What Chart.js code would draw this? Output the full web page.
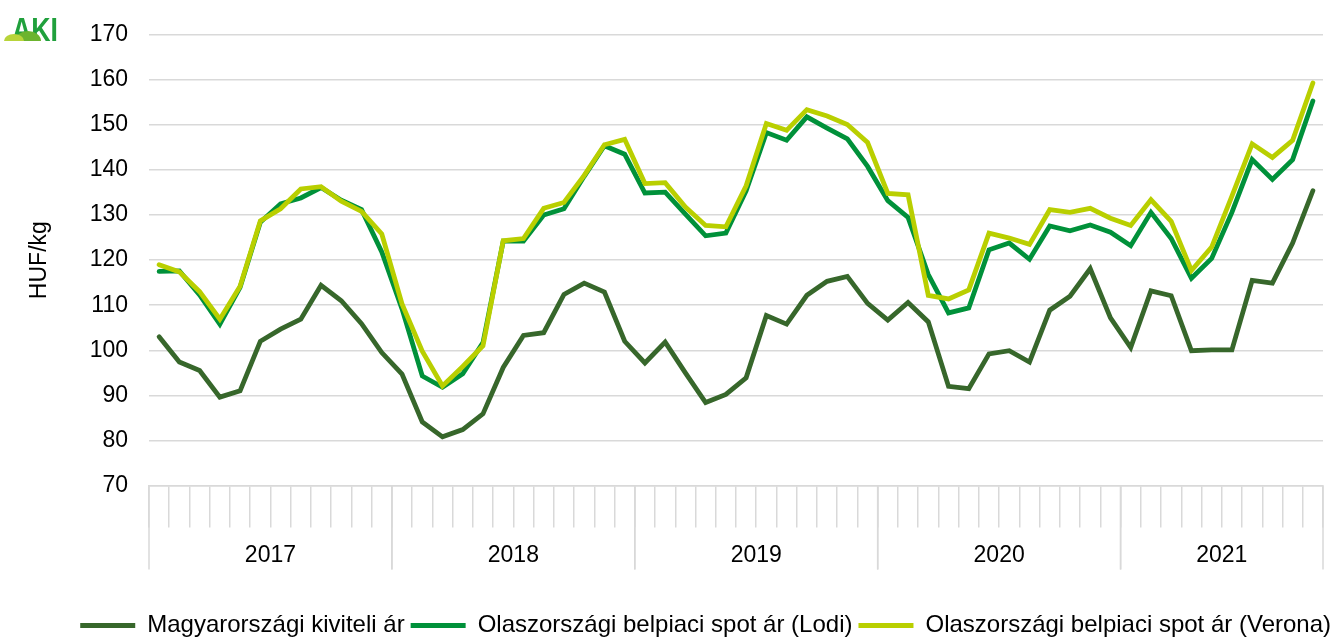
<!DOCTYPE html>
<html>
<head>
<meta charset="utf-8">
<script src="https://cdn.jsdelivr.net/npm/chart.js@4/dist/chart.umd.min.js"></script>
<style>
  body { margin: 0; background: #fff; }
  #wrap { position: relative; width: 1337px; height: 639px; }
  #logo { position: absolute; left: 0; top: 5px; width: 70px; height: 55px; z-index: 2; }
</style>
</head>
<body>
<div id="wrap">
  <canvas id="chart"></canvas>
  <svg id="logo" width="70" height="55" viewBox="0 0 70 55">
    <text x="12" y="36" font-family="Liberation Sans" font-weight="bold" font-size="34" fill="#20a03c" textLength="46" lengthAdjust="spacingAndGlyphs">AKI</text>
    <ellipse cx="28" cy="36" rx="13" ry="10" fill="#6cb42e"/>
    <ellipse cx="14" cy="36" rx="10" ry="7" fill="#b8d43a"/>
    <rect x="0" y="36" width="70" height="19" fill="#fff"/>
  </svg>
</div>
<script>
var years = ["2017", "2018", "2019", "2020", "2021"];
var monthsPerYear = [12, 12, 12, 12, 10];

var magyar = [103.0, 97.4, 95.5, 89.6, 91.0, 102.0, 104.7, 106.9, 114.4, 111.0, 105.9, 99.5,
  94.7, 84.1, 80.8, 82.4, 85.9, 96.2, 103.3, 103.9, 112.4, 114.9, 112.9, 102.0,
  97.2, 101.8, 95.0, 88.4, 90.2, 93.9, 107.7, 105.8, 112.2, 115.3, 116.4, 110.4,
  106.7, 110.6, 106.3, 92.0, 91.5, 99.2, 99.9, 97.4, 108.9, 112.0, 118.1, 107.2,
  100.6, 113.2, 112.1, 99.9, 100.1, 100.1, 115.5, 114.9, 123.8, 135.4];

var lodi = [117.5, 117.6, 112.3, 105.8, 114.0, 128.4, 132.5, 133.8, 136.1, 133.3, 131.2, 121.8,
  109.2, 94.3, 91.8, 94.8, 101.7, 124.2, 124.2, 130.0, 131.4, 138.6, 145.4, 143.5,
  134.9, 135.1, 130.2, 125.4, 126.0, 135.4, 148.3, 146.6, 151.8, 149.3, 146.9, 140.8,
  133.2, 129.5, 116.8, 108.3, 109.4, 122.3, 123.8, 120.2, 127.6, 126.5, 127.8, 126.2,
  123.2, 130.6, 124.8, 116.0, 120.4, 130.6, 142.3, 137.9, 142.3, 155.3];

var verona = [119.0, 117.4, 113.0, 106.9, 114.2, 128.7, 131.4, 135.8, 136.3, 133.1, 130.8, 125.8,
  110.3, 99.8, 92.1, 96.4, 101.0, 124.3, 124.8, 131.5, 132.8, 138.8, 145.6, 146.8,
  137.0, 137.2, 131.8, 127.7, 127.4, 136.5, 150.3, 148.8, 153.4, 152.0, 150.1, 146.1,
  134.8, 134.5, 112.2, 111.4, 113.4, 126.0, 124.9, 123.5, 131.2, 130.6, 131.5, 129.3,
  127.7, 133.4, 128.6, 117.7, 122.9, 134.2, 145.8, 142.8, 146.6, 159.3];

var seriesNames = ["Magyarországi kiviteli ár", "Olaszországi belpiaci spot ár (Lodi)", "Olaszországi belpiaci spot ár (Verona)"];
var seriesColors = ["#37672b", "#00913a", "#b9cf00"];

// month labels, one per data point
var labels = [];
for (var y = 0; y < years.length; y++) {
  for (var m = 1; m <= monthsPerYear[y]; m++) {
    labels.push(years[y] + "-" + (m < 10 ? "0" + m : m));
  }
}

var FONT = "'Liberation Sans', Arial, sans-serif";
var GRID = "#d9d9d9";

// year separators and year labels under the month ticks
var yearAxisPlugin = {
  id: "yearAxis",
  afterDraw: function(chart) {
    var xs = chart.scales.x;
    var ctx = chart.ctx;
    var step = xs.getPixelForValue(1) - xs.getPixelForValue(0);
    var top = xs.top;
    ctx.save();
    ctx.strokeStyle = GRID;
    ctx.lineWidth = 1.5;
    ctx.fillStyle = "#000";
    ctx.font = "23px " + FONT;
    ctx.textAlign = "center";
    ctx.textBaseline = "middle";
    var start = 0;
    for (var y = 0; y < years.length; y++) {
      var x0 = xs.getPixelForValue(start) - step / 2;
      var x1 = xs.getPixelForValue(start + monthsPerYear[y] - 1) + step / 2;
      ctx.beginPath();
      ctx.moveTo(x0, top);
      ctx.lineTo(x0, top + 84);
      ctx.moveTo(x1, top);
      ctx.lineTo(x1, top + 84);
      ctx.stroke();
      ctx.fillText(years[y], (x0 + x1) / 2, top + 70);
      start += monthsPerYear[y];
    }
    ctx.restore();
  }
};

var ctx = document.getElementById("chart").getContext("2d");
var datasets = [];
for (var i = 0; i < seriesNames.length; i++) {
  datasets.push({
    label: seriesNames[i],
    data: [magyar, lodi, verona][i],
    borderColor: seriesColors[i],
    backgroundColor: seriesColors[i],
    borderWidth: 4.8,
    borderCapStyle: "round",
    pointRadius: 0,
    tension: 0,
    fill: false,
    order: [2, 1, 0][i]
  });
}

var chart = new Chart(ctx, {
  type: "line",
  data: { labels: labels, datasets: datasets },
  plugins: [yearAxisPlugin],
  options: {
    responsive: true,
    maintainAspectRatio: false,
    animation: false,
    layout: { padding: { top: 31, right: 0, left: 0, bottom: -8.5 } },
    plugins: {
      tooltip: { enabled: false },
      legend: {
        position: "bottom",
        align: "end",
        labels: {
          usePointStyle: true,
          pointStyle: "line",
          pointStyleWidth: 55,
          padding: 6,
          color: "#000",
          font: { family: FONT, size: 24 },
          sort: function(a, b) { return a.datasetIndex - b.datasetIndex; }
        }
      }
    },
    scales: {
      x: {
        type: "category",
        offset: true,
        afterFit: function(scale) { scale.height = 122; },
        ticks: { display: false },
        border: { display: true, color: GRID, width: 1.5 },
        grid: {
          display: true,
          offset: true,
          drawOnChartArea: false,
          drawTicks: true,
          tickLength: 42,
          color: GRID,
          lineWidth: 1.5
        }
      },
      y: {
        min: 70,
        max: 170,
        afterFit: function(scale) { scale.width = 149; },
        ticks: {
          stepSize: 10,
          padding: 21,
          color: "#000",
          font: { family: FONT, size: 23 }
        },
        border: { display: false },
        grid: { color: GRID, lineWidth: 1.5, drawTicks: false },
        title: {
          display: true,
          text: "HUF/kg",
          color: "#000",
          padding: { top: 26, bottom: 0 },
          font: { family: FONT, size: 23 }
        }
      },
      // empty right margin so the legend can run to the canvas edge
      yRight: {
        position: "right",
        display: true,
        afterFit: function(scale) { scale.width = 14; },
        ticks: { display: false },
        grid: { display: false },
        border: { display: false }
      }
    }
  }
});
</script>
</body>
</html>
